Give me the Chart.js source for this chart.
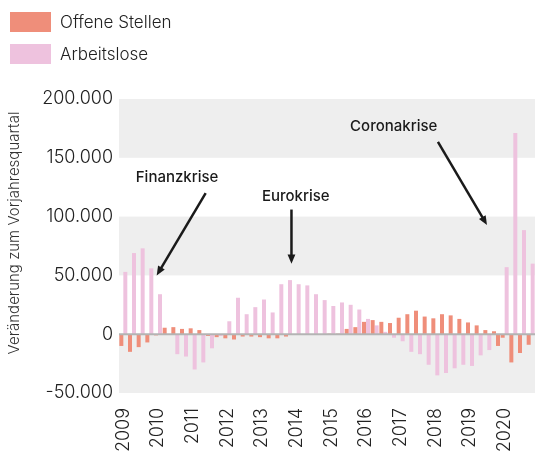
<!DOCTYPE html>
<html>
<head>
<meta charset="utf-8">
<script src="https://cdn.jsdelivr.net/npm/chart.js@4"></script>
<style>
  html, body { margin: 0; padding: 0; background: #fff; }
  #wrap { position: relative; width: 535px; height: 452px; overflow: hidden; }
  #legend { position: absolute; left: 10px; top: 12px; font-family: Inter, sans-serif; font-weight: 300; font-size: 17px; color: #222; }
  .item { display: flex; align-items: center; height: 20px; margin-bottom: 12px; }
  .swatch { width: 41px; height: 20px; margin-right: 9px; }
</style>
</head>
<body>
<div id="wrap">
  <canvas id="chart" width="535" height="452"></canvas>
  <div id="legend"></div>
</div>
<script>
// =================== DATA ===================
const years = ["2009", "2010", "2011", "2012", "2013", "2014", "2015", "2016", "2017", "2018", "2019", "2020"];
const quarters = years.flatMap(y => ["Q1", "Q2", "Q3", "Q4"].map(q => q + " " + y));

// Veränderung zum Vorjahresquartal
const offeneStellen = [
  -10000, -15000, -11000, -7000,
  -1000, 5500, 6000, 4500,
  5000, 3500, -1500, -2500,
  -3500, -4500, -2000, -2000,
  -2500, -3500, -3500, -2000,
  -500, -500, -500, -500,
  500, 500, 4500, 6000,
  10500, 12000, 10500, 9500,
  14000, 17000, 20000, 15000,
  13500, 17000, 16000, 13000,
  10000, 7500, 3500, 2500,
  -3000, -24000, -16000, -9000
];
const arbeitslose = [
  53000, 69000, 73000, 56000,
  34000, -500, -17000, -19000,
  -30000, -24000, -12000, -1500,
  11000, 31000, 17000, 23000,
  29500, 18500, 42500, 46000,
  42500, 41500, 34000, 29000,
  24000, 27000, 25000, 21000,
  13000, 7500, 2000, -3000,
  -6000, -15000, -17000, -26000,
  -35000, -33000, -29000, -26000,
  -27000, -18000, -13500, -10000,
  57000, 171000, 88500, 60000
];
const yTicks = [-50000, 0, 50000, 100000, 150000, 200000];
const yTitle = "Veränderung zum Vorjahresquartal";

// annotations in data space: [category index, value]
const notes = [
  { text: "Finanzkrise", at: [6.2, 133000], from: [9.5, 120000], to: [3.85, 50000] },
  { text: "Eurokrise", at: [19.9, 117000], from: [19.4, 106000], to: [19.4, 60000] },
  { text: "Coronakrise", at: [31.2, 177000], from: [36.3, 163500], to: [41.96, 92800] }
];

const SALMON = "#ef8e7a";
const PINK = "#eec2de";
// the 2019 Q4 Arbeitslose bar is drawn in the salmon colour in the original
const pinkColors = arbeitslose.map((v, i) => i === 43 ? SALMON : PINK);

function fmt(v) {
  return String(v).replace(/\B(?=(\d{3})+(?!\d))/g, ".");
}

// =================== LEGEND ===================
function renderLegend() {
  const box = document.getElementById("legend");
  [["Offene Stellen", SALMON], ["Arbeitslose", PINK]].forEach(([name, color]) => {
    const item = document.createElement("div");
    item.className = "item";
    item.innerHTML = `<span class="swatch" style="background:${color}"></span><span>${name}</span>`;
    box.appendChild(item);
  });
}

// =================== PLUGINS ===================
const bands = {
  id: "bands",
  beforeDatasetsDraw(chart) {
    const { ctx, chartArea, scales: { y } } = chart;
    ctx.save();
    ctx.fillStyle = "#eeeeee";
    [[150000, 200000], [50000, 100000], [-50000, 0]].forEach(([a, b]) => {
      const top = y.getPixelForValue(b), bot = y.getPixelForValue(a);
      ctx.fillRect(chartArea.left, top, chart.width - chartArea.left, bot - top);
    });
    ctx.restore();
  },
  afterDatasetsDraw(chart) {
    const { ctx, chartArea, scales: { y } } = chart;
    const y0 = y.getPixelForValue(0);
    ctx.save();
    ctx.strokeStyle = "#b4b4b4";
    ctx.lineWidth = 2;
    ctx.beginPath();
    ctx.moveTo(chartArea.left, y0);
    ctx.lineTo(chart.width, y0);
    ctx.stroke();
    ctx.restore();
  }
};

const arrows = {
  id: "arrows",
  afterDraw(chart) {
    const { ctx, chartArea, scales: { x, y } } = chart;
    const px = p => [x.getPixelForValue(p[0]), y.getPixelForValue(p[1])];
    ctx.save();

    // axis title, sits a little above the middle of the plot
    ctx.save();
    ctx.translate(14, (chartArea.top + chartArea.bottom) / 2 - 13);
    ctx.rotate(-Math.PI / 2);
    ctx.fillStyle = "#333";
    ctx.font = "300 15px Inter, sans-serif";
    ctx.textAlign = "center";
    ctx.textBaseline = "middle";
    ctx.fillText(yTitle, 0, 0);
    ctx.restore();

    notes.forEach(n => {
      const [tx, ty] = px(n.at);
      ctx.fillStyle = "#1a1a1a";
      ctx.font = "500 15px Inter, sans-serif";
      ctx.textAlign = "center";
      ctx.textBaseline = "middle";
      ctx.fillText(n.text, tx, ty);

      const [x1, y1] = px(n.from);
      const [x2, y2] = px(n.to);
      const ang = Math.atan2(y2 - y1, x2 - x1);
      const head = 10;
      ctx.strokeStyle = "#1a1a1a";
      ctx.lineWidth = 2.5;
      ctx.beginPath();
      ctx.moveTo(x1, y1);
      ctx.lineTo(x2 - Math.cos(ang) * head * 0.8, y2 - Math.sin(ang) * head * 0.8);
      ctx.stroke();
      ctx.beginPath();
      ctx.moveTo(x2, y2);
      ctx.lineTo(x2 - head * Math.cos(ang - 0.4), y2 - head * Math.sin(ang - 0.4));
      ctx.lineTo(x2 - head * Math.cos(ang + 0.4), y2 - head * Math.sin(ang + 0.4));
      ctx.closePath();
      ctx.fill();
    });
    ctx.restore();
  }
};

// =================== CHART ===================
function createChart() {
  Chart.defaults.font.family = "Inter, sans-serif";
  Chart.defaults.font.weight = 300;
  Chart.defaults.color = "#222";

  new Chart(document.getElementById("chart"), {
    type: "bar",
    data: {
      labels: quarters,
      datasets: [
        { label: "Offene Stellen", data: offeneStellen, backgroundColor: SALMON },
        { label: "Arbeitslose", data: arbeitslose, backgroundColor: pinkColors }
      ]
    },
    options: {
      responsive: false,
      animation: false,
      categoryPercentage: 0.92,
      barPercentage: 1,
      layout: { padding: { top: 99, right: 0, bottom: 0, left: 0 } },
      scales: {
        x: {
          grid: { display: false, drawTicks: false },
          border: { display: false },
          ticks: {
            autoSkip: false,
            maxRotation: 90,
            minRotation: 90,
            padding: 15,
            font: { size: 18 },
            callback: (v, i) => i % 4 === 0 ? years[i / 4] : ""
          },
          afterFit(scale) {
            scale.height = 59;
            scale.paddingLeft = 0;
            scale.paddingRight = 0;
          }
        },
        y: {
          min: -50000,
          max: 200000,
          grid: { display: false, drawTicks: false },
          border: { display: false },
          afterBuildTicks(scale) {
            scale.ticks = yTicks.map(v => ({ value: v }));
          },
          ticks: {
            padding: 6,
            font: { size: 18 },
            callback: v => fmt(v)
          },
          afterFit(scale) {
            scale.width = 119;
            scale.paddingTop = 0;
            scale.paddingBottom = 0;
          }
        }
      },
      plugins: {
        legend: { display: false },
        tooltip: { enabled: false }
      }
    },
    plugins: [bands, arrows]
  });
}

renderLegend();
createChart();
</script>
</body>
</html>
